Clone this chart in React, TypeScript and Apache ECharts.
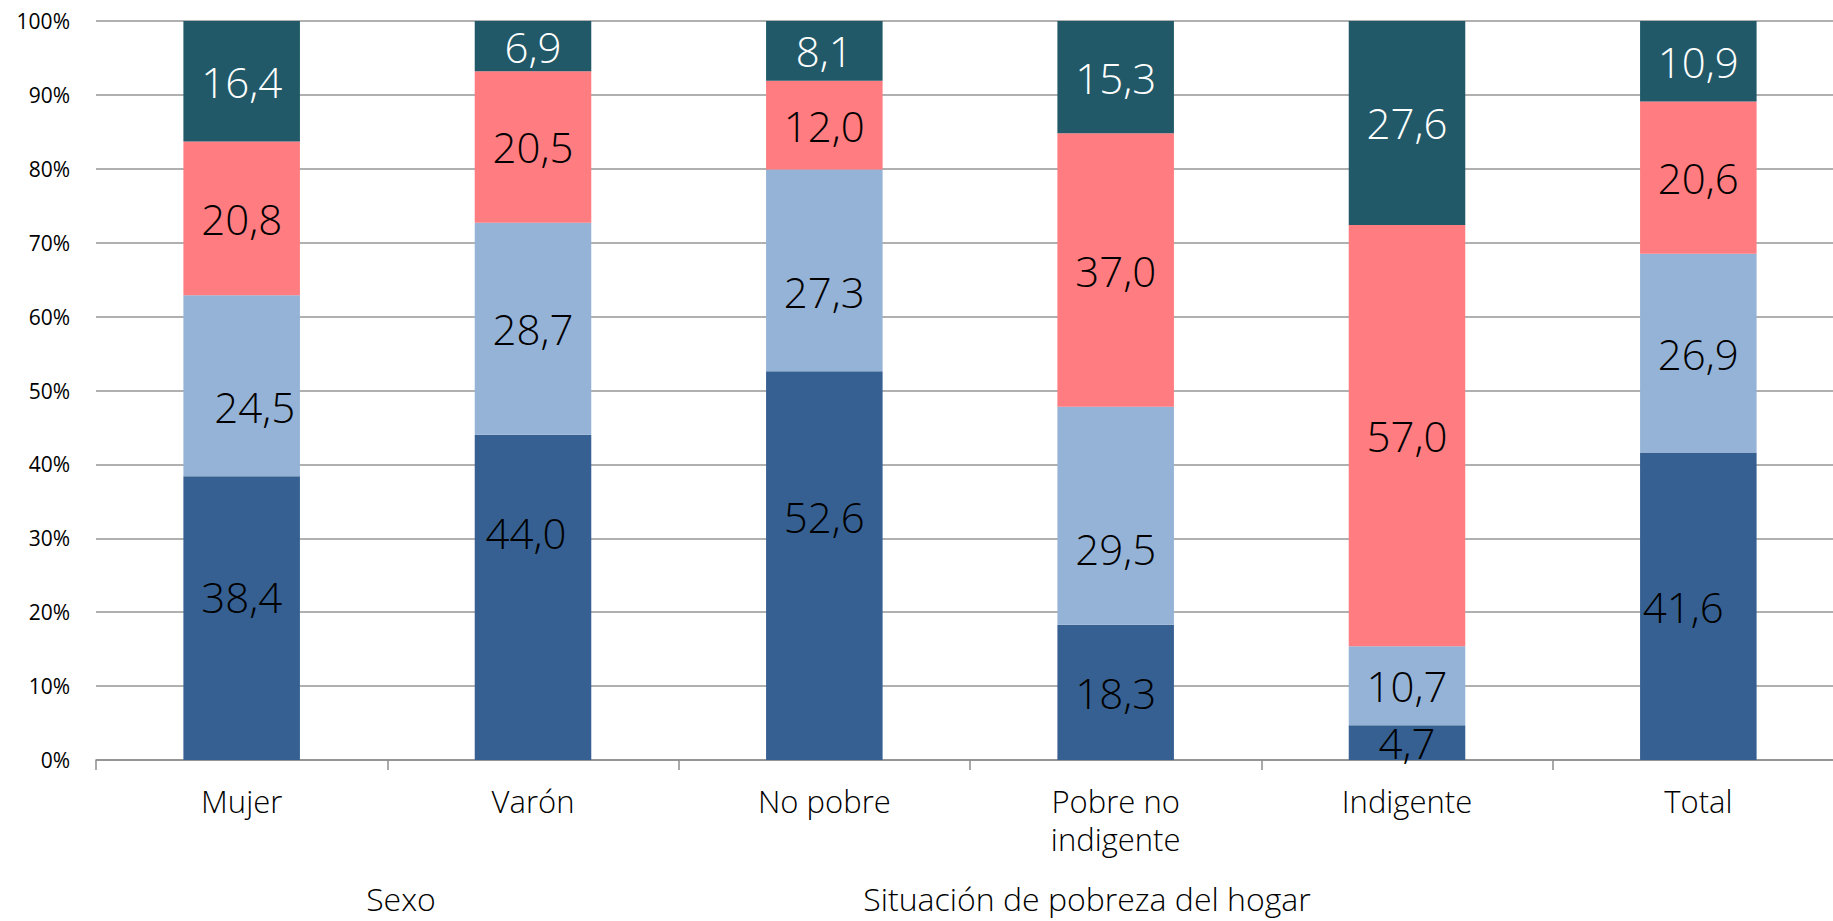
import React, { useEffect, useRef } from "react";
import * as echarts from "echarts";

const categories = ["Mujer", "Varón", "No pobre", "Pobre no\nindigente", "Indigente", "Total"];
const seriesNames = ["Serie 1", "Serie 2", "Serie 3", "Serie 4"];
const serie1 = [38.4, 44.0, 52.6, 18.3, 4.7, 41.6];
const serie2 = [24.5, 28.7, 27.3, 29.5, 10.7, 26.9];
const serie3 = [20.8, 20.5, 12.0, 37.0, 57.0, 20.6];
const serie4 = [16.4, 6.9, 8.1, 15.3, 27.6, 10.9];
const groupLabels = ["Sexo", "Situación de pobreza del hogar"];

const seriesValues = [serie1, serie2, serie3, serie4];
const colors = ["#376092", "#95B3D7", "#FF7C80", "#215968"];
const labelColors = ["#000000", "#000000", "#000000", "#FFFFFF"];
// manual label displacements (pixels), as in the original chart: [series, category, dx, dy]
const labelShifts: [number, number, number, number][] = [
  [0, 0, 0, -22],
  [1, 0, 13, 21],
  [0, 1, -7, -65],
  [0, 2, 0, -49],
  [1, 2, 0, 21],
  [1, 3, 0, 33],
  [0, 5, -15, 0],
];

const FONT = "'Open Sans', 'Noto Sans', sans-serif";

export default function App() {
  const ref = useRef<HTMLDivElement>(null);
  useEffect(() => {
    if (!ref.current) return;
    document.documentElement.style.overflow = "hidden";
    document.body.style.overflow = "hidden";
    const chart = echarts.init(ref.current, null, { renderer: "svg" });
    const series = seriesValues.map((vals, si) => ({
      name: seriesNames[si],
      type: "bar",
      stack: "total",
      barWidth: "40%",
      itemStyle: { color: colors[si] },
      label: {
        show: true,
        position: "inside",
        color: labelColors[si],
        fontSize: 42,
        fontWeight: 300,
        fontFamily: FONT,
        formatter: (p: any) => vals[p.dataIndex].toFixed(1).replace(".", ","),
      },
      data: vals.map((v, ci) => {
        const s = labelShifts.find((l) => l[0] === si && l[1] === ci);
        return s ? { value: v, label: { offset: [s[2], s[3]] } } : { value: v };
      }),
    }));
    chart.setOption({
      animation: false,
      grid: { left: 96, right: 0, top: 21, bottom: 161, containLabel: false },
      xAxis: {
        type: "category",
        data: categories,
        axisLine: { show: true, lineStyle: { color: "#8c8c8c", width: 1.5 } },
        axisTick: { show: true, length: 10, lineStyle: { color: "#8c8c8c", width: 1.5 } },
        axisLabel: {
          color: "#000",
          fontSize: 31,
          fontWeight: 300,
          fontFamily: FONT,
          lineHeight: 38,
          margin: 22,
          interval: 0,
        },
      },
      yAxis: {
        type: "value",
        min: 0,
        max: 100,
        interval: 10,
        axisLine: { show: false },
        axisTick: { show: false },
        splitLine: { lineStyle: { color: "#969696", width: 1.5 } },
        axisLabel: {
          formatter: "{value}%",
          color: "#000",
          fontSize: 21,
          fontFamily: FONT,
          margin: 26,
        },
      },
      graphic: [
        {
          type: "text",
          x: 401,
          y: 898,
          style: {
            text: groupLabels[0],
            fontSize: 32,
            fontWeight: 300,
            fontFamily: FONT,
            fill: "#000",
            textAlign: "center",
            textVerticalAlign: "middle",
          },
        },
        {
          type: "text",
          x: 1087,
          y: 898,
          style: {
            text: groupLabels[1],
            fontSize: 32,
            fontWeight: 300,
            fontFamily: FONT,
            fill: "#000",
            textAlign: "center",
            textVerticalAlign: "middle",
          },
        },
      ],
      series,
    });
    return () => chart.dispose();
  }, []);
  return (
    <div
      ref={ref}
      style={{ position: "fixed", left: 0, top: 0, width: 1844, height: 921, background: "#fff" }}
    />
  );
}
